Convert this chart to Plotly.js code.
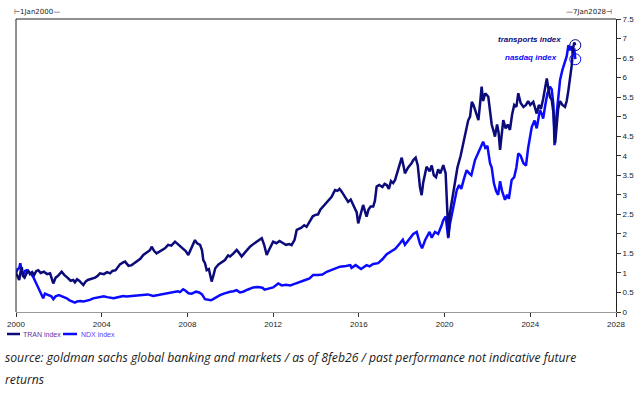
<!DOCTYPE html>
<html>
<head>
<meta charset="utf-8">
<script src="https://cdn.plot.ly/plotly-3.0.1.min.js"></script>
<style>html,body{margin:0;padding:0;background:#fff;}#chart{width:641px;height:393px;}</style>
</head>
<body>
<div id="chart"></div>
<script>
// ---- data (values relative to 1 Jan 2000) ----
const tranYears = [2000.00,2000.08,2000.15,2000.22,2000.27,2000.33,2000.40,2000.50,2000.57,2000.65,2000.75,2000.85,2000.95,2001.04,2001.15,2001.30,2001.45,2001.59,2001.70,2001.74,2001.85,2001.95,2002.13,2002.25,2002.40,2002.55,2002.67,2002.75,2002.85,2002.95,2003.14,2003.25,2003.35,2003.50,2003.69,2003.80,2003.92,2004.10,2004.25,2004.39,2004.50,2004.65,2004.85,2005.00,2005.09,2005.25,2005.40,2005.50,2005.63,2005.80,2005.94,2006.10,2006.25,2006.33,2006.45,2006.56,2006.70,2006.85,2006.95,2007.10,2007.25,2007.42,2007.55,2007.70,2007.80,2007.92,2008.04,2008.15,2008.25,2008.35,2008.45,2008.59,2008.68,2008.74,2008.82,2008.90,2009.00,2009.13,2009.22,2009.30,2009.45,2009.60,2009.75,2009.90,2009.99,2010.15,2010.30,2010.40,2010.53,2010.65,2010.80,2010.92,2011.10,2011.30,2011.47,2011.58,2011.70,2011.80,2011.90,2012.00,2012.15,2012.30,2012.47,2012.60,2012.75,2012.86,2013.00,2013.10,2013.30,2013.45,2013.56,2013.70,2013.85,2013.95,2014.10,2014.20,2014.34,2014.50,2014.60,2014.73,2014.82,2014.89,2015.00,2015.10,2015.20,2015.30,2015.40,2015.50,2015.62,2015.70,2015.80,2015.90,2015.97,2016.05,2016.12,2016.20,2016.30,2016.36,2016.45,2016.55,2016.67,2016.75,2016.83,2016.95,2017.10,2017.20,2017.30,2017.40,2017.50,2017.60,2017.69,2017.80,2017.92,2018.00,2018.10,2018.15,2018.30,2018.45,2018.54,2018.65,2018.75,2018.85,2018.93,2019.00,2019.16,2019.30,2019.40,2019.50,2019.60,2019.70,2019.80,2019.94,2020.05,2020.10,2020.18,2020.24,2020.35,2020.49,2020.60,2020.75,2020.88,2021.00,2021.10,2021.19,2021.27,2021.35,2021.45,2021.58,2021.66,2021.73,2021.80,2021.90,2022.04,2022.12,2022.20,2022.30,2022.35,2022.45,2022.52,2022.59,2022.66,2022.74,2022.85,2022.95,2023.05,2023.15,2023.25,2023.35,2023.44,2023.55,2023.68,2023.80,2023.90,2024.00,2024.14,2024.22,2024.30,2024.40,2024.50,2024.60,2024.70,2024.77,2024.85,2024.92,2025.00,2025.08,2025.16,2025.22,2025.30,2025.39,2025.50,2025.62,2025.70,2025.78,2025.85,2025.93,2026.00,2026.05,2026.10];
const tranValues = [1.00,0.88,0.82,1.05,1.15,0.92,0.88,1.00,1.05,0.97,1.02,0.95,1.05,1.07,1.00,1.03,0.97,0.99,0.80,0.73,0.88,0.92,1.03,0.95,0.88,0.80,0.82,0.76,0.84,0.80,0.69,0.78,0.82,0.84,0.88,0.92,0.99,0.97,1.02,0.99,1.05,1.07,1.22,1.27,1.29,1.18,1.20,1.24,1.29,1.36,1.46,1.52,1.58,1.67,1.56,1.50,1.55,1.60,1.63,1.72,1.70,1.80,1.74,1.68,1.64,1.56,1.46,1.60,1.72,1.84,1.76,1.72,1.58,1.33,1.25,1.07,1.10,0.78,0.95,1.12,1.22,1.28,1.33,1.45,1.42,1.50,1.59,1.52,1.42,1.50,1.60,1.67,1.75,1.82,1.89,1.72,1.46,1.58,1.70,1.80,1.76,1.82,1.76,1.72,1.74,1.71,1.85,2.10,2.15,2.22,2.18,2.30,2.45,2.48,2.50,2.62,2.70,2.80,2.85,2.95,3.05,3.12,3.10,3.15,3.08,2.98,2.90,2.82,2.88,2.78,2.70,2.55,2.27,2.45,2.60,2.74,2.55,2.44,2.62,2.70,2.70,2.85,3.21,3.25,3.20,3.28,3.25,3.15,3.35,3.30,3.38,3.60,3.85,3.95,3.70,3.55,3.70,3.80,3.89,3.95,3.75,3.20,2.99,3.30,3.72,3.60,3.75,3.50,3.45,3.65,3.55,3.76,3.55,2.78,1.93,2.50,2.90,3.29,3.70,4.00,4.36,4.70,4.90,5.00,5.38,5.30,5.15,4.91,5.35,5.77,5.40,5.60,5.51,5.10,4.80,4.60,4.49,4.80,4.60,4.15,4.60,4.91,4.70,4.80,4.66,5.05,5.30,5.25,5.60,5.35,5.25,5.30,5.40,5.30,5.38,5.20,5.08,5.30,5.20,5.45,5.80,5.98,5.70,5.50,5.43,5.10,4.32,4.80,5.20,5.40,5.30,5.25,5.40,5.68,5.95,6.30,6.75,6.90,6.83];

const ndxYears = [2000.00,2000.08,2000.15,2000.20,2000.27,2000.33,2000.42,2000.50,2000.60,2000.70,2000.80,2000.90,2000.96,2001.05,2001.10,2001.20,2001.27,2001.35,2001.45,2001.55,2001.65,2001.74,2001.85,2002.00,2002.10,2002.25,2002.37,2002.50,2002.60,2002.75,2002.85,2003.00,2003.15,2003.30,2003.45,2003.60,2003.75,2003.92,2004.10,2004.25,2004.39,2004.55,2004.70,2004.85,2005.00,2005.15,2005.32,2005.50,2005.65,2005.80,2006.00,2006.15,2006.40,2006.60,2006.80,2007.00,2007.20,2007.40,2007.55,2007.65,2007.80,2007.90,2008.05,2008.20,2008.40,2008.55,2008.68,2008.82,2008.95,2009.10,2009.20,2009.35,2009.52,2009.70,2009.85,2009.99,2010.15,2010.30,2010.45,2010.60,2010.80,2011.07,2011.30,2011.50,2011.60,2011.85,2012.00,2012.24,2012.40,2012.60,2012.80,2013.00,2013.25,2013.50,2013.70,2013.87,2014.10,2014.30,2014.50,2014.70,2014.90,2015.12,2015.40,2015.60,2015.66,2015.85,2016.10,2016.36,2016.50,2016.67,2016.90,2017.10,2017.30,2017.50,2017.70,2017.92,2018.05,2018.15,2018.35,2018.54,2018.70,2018.85,2018.95,2019.10,2019.30,2019.40,2019.55,2019.70,2019.85,2019.94,2020.05,2020.10,2020.17,2020.25,2020.40,2020.57,2020.68,2020.78,2020.90,2021.03,2021.15,2021.25,2021.42,2021.55,2021.65,2021.80,2021.90,2022.00,2022.12,2022.20,2022.30,2022.40,2022.50,2022.59,2022.68,2022.75,2022.82,2022.92,2023.00,2023.13,2023.25,2023.35,2023.44,2023.55,2023.68,2023.80,2023.90,2024.07,2024.20,2024.30,2024.45,2024.55,2024.60,2024.70,2024.80,2024.92,2025.00,2025.08,2025.13,2025.20,2025.30,2025.39,2025.50,2025.60,2025.70,2025.78,2025.85,2025.93,2026.00,2026.05,2026.10];
const ndxValues = [1.00,1.10,1.12,1.25,1.02,0.95,1.05,1.07,1.03,0.98,0.90,0.78,0.73,0.62,0.56,0.42,0.35,0.47,0.45,0.42,0.40,0.33,0.40,0.43,0.41,0.38,0.35,0.30,0.28,0.24,0.27,0.28,0.27,0.29,0.31,0.35,0.36,0.38,0.40,0.38,0.37,0.35,0.37,0.40,0.41,0.40,0.41,0.42,0.43,0.44,0.46,0.45,0.41,0.43,0.46,0.48,0.49,0.52,0.53,0.51,0.58,0.55,0.48,0.47,0.52,0.50,0.45,0.33,0.31,0.30,0.33,0.38,0.43,0.47,0.50,0.52,0.53,0.56,0.50,0.52,0.57,0.63,0.64,0.62,0.57,0.61,0.63,0.73,0.68,0.70,0.68,0.72,0.78,0.82,0.86,0.95,0.95,0.96,1.03,1.07,1.10,1.16,1.18,1.20,1.13,1.20,1.10,1.20,1.17,1.23,1.25,1.35,1.48,1.55,1.62,1.76,1.85,1.72,1.85,2.00,2.05,1.75,1.63,1.85,2.05,1.90,2.05,2.00,2.20,2.35,2.45,2.20,1.89,2.25,2.65,3.12,3.25,3.15,3.40,3.63,3.55,3.50,3.89,4.05,4.20,4.36,4.20,4.25,3.81,3.70,3.30,3.10,3.00,3.35,3.10,2.95,2.87,3.00,2.90,3.38,3.45,3.70,4.06,4.00,3.81,3.75,4.20,4.74,4.90,4.70,5.17,5.05,4.95,5.30,5.60,5.77,5.70,5.30,4.27,4.90,5.50,5.94,6.20,6.40,6.55,6.83,6.70,6.80,6.60,6.75,6.47];

const xTickVals = [2000,2004,2008,2012,2016,2020,2024,2028];
const xTickText = ['2000','2004','2008','2012','2016','2020','2024','2028'];
const seriesNames = ['TRAN index','NDX index'];
const labelNames = ['transports index','nasdaq index'];
const topLabels = ['\u22a21Jan2000\u2014','\u20147Jan2028\u22a3'];
const footLine1 = 'source: goldman sachs global banking and markets / as of 8feb26 / past performance not indicative future';
const footLine2 = 'returns';

// ---- styling ----
const cTran = '#0b0b7a';
const cNdx = '#0a0aff';
const L = 16, R = 616, T = 19, B = 312;
const px = v => (v - L) / (R - L);
const py = v => (B - v) / (B - T);

const traces = [
  {x: ndxYears, y: ndxValues, type: 'scatter', mode: 'lines', name: seriesNames[1],
   line: {color: cNdx, width: 2.5}, hoverinfo: 'skip'},
  {x: tranYears, y: tranValues, type: 'scatter', mode: 'lines', name: seriesNames[0],
   line: {color: cTran, width: 2.5}, hoverinfo: 'skip'},
  {x: [tranYears[tranYears.length-1]], y: [tranValues[tranValues.length-1]], type: 'scatter', mode: 'markers',
   marker: {symbol: 'circle-open', size: 11, color: cTran, line: {width: 1, color: cTran}}, hoverinfo: 'skip'},
  {x: [ndxYears[ndxYears.length-1]], y: [ndxValues[ndxValues.length-1]], type: 'scatter', mode: 'markers',
   marker: {symbol: 'circle-open', size: 11, color: cNdx, line: {width: 1, color: cNdx}}, hoverinfo: 'skip'}
];

const tickFont = {family: 'Liberation Sans, Arial, sans-serif', size: 8, color: '#222'};

const layout = {
  width: 641, height: 393,
  margin: {l: L, r: 641 - R, t: T, b: 393 - B, pad: 0},
  paper_bgcolor: '#fff', plot_bgcolor: '#fff',
  showlegend: false,
  xaxis: {range: [2000, 2028], tickvals: xTickVals, ticktext: xTickText,
    showgrid: false, zeroline: false, showline: true, linecolor: '#9a9a9a', linewidth: 1,
    ticks: 'outside', ticklen: 4, tickcolor: '#333', tickfont: tickFont, fixedrange: true},
  yaxis: {range: [0, 7.5], dtick: 0.5, side: 'right', showgrid: false, zeroline: false,
    showline: true, linecolor: '#222', linewidth: 1, ticks: 'outside', ticklen: 4, tickcolor: '#333',
    tickfont: tickFont, fixedrange: true},
  shapes: [
    {type: 'line', xref: 'paper', yref: 'paper', x0: 0, x1: 0, y0: 0, y1: 1, line: {color: '#222', width: 1}},
    {type: 'line', xref: 'paper', yref: 'paper', x0: 0, x1: 1, y0: 1, y1: 1, line: {color: '#222', width: 1}},
    {type: 'line', xref: 'paper', yref: 'paper', x0: px(7), x1: px(20), y0: py(334), y1: py(334), line: {color: cTran, width: 2.5}},
    {type: 'line', xref: 'paper', yref: 'paper', x0: px(63), x1: px(77), y0: py(334), y1: py(334), line: {color: cNdx, width: 2.5}}
  ],
  annotations: [
    {xref: 'paper', yref: 'paper', x: px(12), y: py(12), xanchor: 'left', yanchor: 'middle', showarrow: false,
     text: topLabels[0], font: {family: 'DejaVu Sans, sans-serif', size: 7, color: '#222'}},
    {xref: 'paper', yref: 'paper', x: px(614), y: py(12), xanchor: 'right', yanchor: 'middle', showarrow: false,
     text: topLabels[1], font: {family: 'DejaVu Sans, sans-serif', size: 7, color: '#222'}},
    {xref: 'paper', yref: 'paper', x: px(563), y: py(39), xanchor: 'right', yanchor: 'middle', showarrow: false,
     text: '<b><i>' + labelNames[0] + '</i></b>', font: {family: 'Liberation Sans, Arial, sans-serif', size: 8, color: cTran}},
    {xref: 'paper', yref: 'paper', x: px(559), y: py(58), xanchor: 'right', yanchor: 'middle', showarrow: false,
     text: '<b><i>' + labelNames[1] + '</i></b>', font: {family: 'Liberation Sans, Arial, sans-serif', size: 8, color: cNdx}},
    {xref: 'paper', yref: 'paper', x: px(21), y: py(334), xanchor: 'left', yanchor: 'middle', showarrow: false,
     text: seriesNames[0], font: {family: 'Liberation Sans, Arial, sans-serif', size: 7, color: '#6a2fa3'}},
    {xref: 'paper', yref: 'paper', x: px(79), y: py(334), xanchor: 'left', yanchor: 'middle', showarrow: false,
     text: seriesNames[1], font: {family: 'Liberation Sans, Arial, sans-serif', size: 7, color: '#5a3cff'}},
    {xref: 'paper', yref: 'paper', x: px(3), y: py(357), xanchor: 'left', yanchor: 'middle', showarrow: false,
     text: '<i>' + footLine1 + '</i>', font: {family: 'Open Sans, sans-serif', size: 12.2, color: '#1a1a1a'}},
    {xref: 'paper', yref: 'paper', x: px(3), y: py(380), xanchor: 'left', yanchor: 'middle', showarrow: false,
     text: '<i>' + footLine2 + '</i>', font: {family: 'Open Sans, sans-serif', size: 12.2, color: '#1a1a1a'}}
  ]
};

Plotly.newPlot('chart', traces, layout, {staticPlot: true, displayModeBar: false});
</script>
</body>
</html>
